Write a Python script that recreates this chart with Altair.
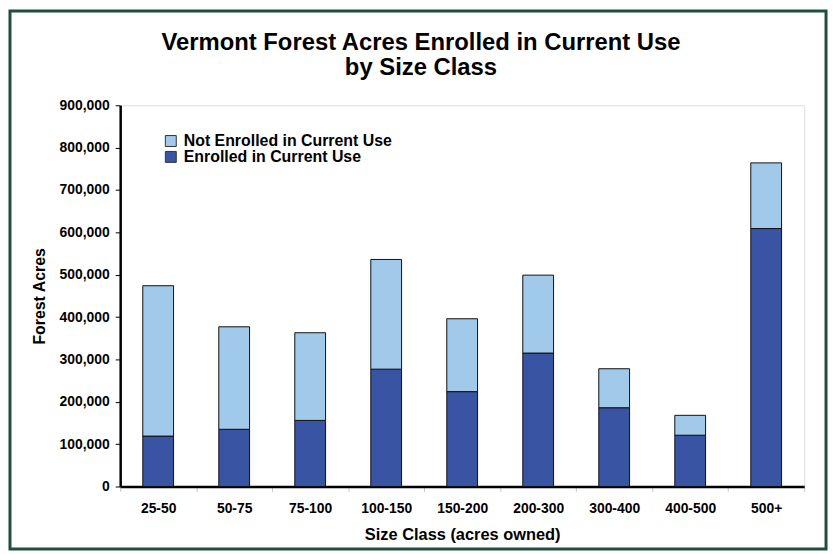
import altair as alt
import pandas as pd

categories = ["25-50", "50-75", "75-100", "100-150", "150-200", "200-300", "300-400", "400-500", "500+"]
enrolled = [119000, 135000, 156000, 277000, 224000, 315000, 186000, 121000, 609000]
not_enrolled = [355000, 242000, 207000, 259000, 172000, 184000, 92000, 47000, 155000]
series = ["Not Enrolled in Current Use", "Enrolled in Current Use"]
colors = ["#A0C9EA", "#3A54A4"]
y_ticks = [0, 100000, 200000, 300000, 400000, 500000, 600000, 700000, 800000, 900000]
title_lines = ["Vermont Forest Acres Enrolled in Current Use", "by Size Class"]

rows = []
for c, e, n in zip(categories, enrolled, not_enrolled):
    rows.append({"cls": c, "series": series[1], "value": e, "ord": 0})
    rows.append({"cls": c, "series": series[0], "value": n, "ord": 1})
df = pd.DataFrame(rows)

FONT = "Liberation Sans"

bars = alt.Chart(df).mark_bar(size=31, stroke="#111111", strokeWidth=1).encode(
    x=alt.X("cls:N", sort=categories, title="Size Class (acres owned)",
            scale=alt.Scale(paddingInner=0, paddingOuter=0),
            axis=alt.Axis(labelAngle=0, tickBand="extent", tickColor="#c8c8c8", tickSize=5,
                          domainColor="black", domainWidth=2.5, labelPadding=10,
                          labelFont=FONT, labelFontSize=14, labelFontWeight="bold", labelColor="black",
                          titleFont=FONT, titleFontSize=16.5, titleFontWeight="bold", titleColor="black",
                          titlePadding=11)),
    y=alt.Y("value:Q", stack="zero", title="Forest Acres",
            scale=alt.Scale(domain=[0, 900000], nice=False),
            axis=alt.Axis(values=y_ticks, format=",.0f", grid=False, tickColor="black", tickSize=5,
                          domainColor="black", domainWidth=2.5, labelPadding=6,
                          labelFont=FONT, labelFontSize=14, labelFontWeight="bold", labelColor="black",
                          titleFont=FONT, titleFontSize=16, titleFontWeight="bold", titleColor="black",
                          titlePadding=12)),
    color=alt.Color("series:N", scale=alt.Scale(domain=series, range=colors),
                    legend=alt.Legend(title=None, orient="none", legendX=43, legendY=28,
                                      symbolType="square", symbolSize=121, symbolStrokeColor="#333333",
                                      symbolStrokeWidth=1, symbolOpacity=1, labelLimit=500,
                                      labelFont=FONT, labelFontSize=16, labelFontWeight="bold",
                                      labelColor="black", rowPadding=0, labelOffset=5)),
    order=alt.Order("ord:Q"),
)

frame = alt.Chart(pd.DataFrame({"a": [0]})).mark_rect(
    fillOpacity=0, stroke="#1f4e3c", strokeWidth=3
).encode(x=alt.value(-111), x2=alt.value(711), y=alt.value(-95), y2=alt.value(447))

title_df = pd.DataFrame({"t": title_lines})
title1 = alt.Chart(title_df.iloc[[0]]).mark_text(
    font=FONT, fontSize=24, fontWeight="bold", color="black", align="center", baseline="alphabetic"
).encode(text="t:N", x=alt.value(303), y=alt.value(-56))
title2 = alt.Chart(title_df.iloc[[1]]).mark_text(
    font=FONT, fontSize=24, fontWeight="bold", color="black", align="center", baseline="alphabetic"
).encode(text="t:N", x=alt.value(303), y=alt.value(-30))

chart = alt.layer(frame, bars, title1, title2).properties(
    width=689, height=384,
    padding={"left": 113, "top": 96, "right": 25, "bottom": 65},
    autosize=alt.AutoSizeParams(type="none"),
).configure_view(stroke="black", strokeWidth=2).configure(background="white")

chart.save("out.html", embed_options={"renderer": "svg", "actions": False})
